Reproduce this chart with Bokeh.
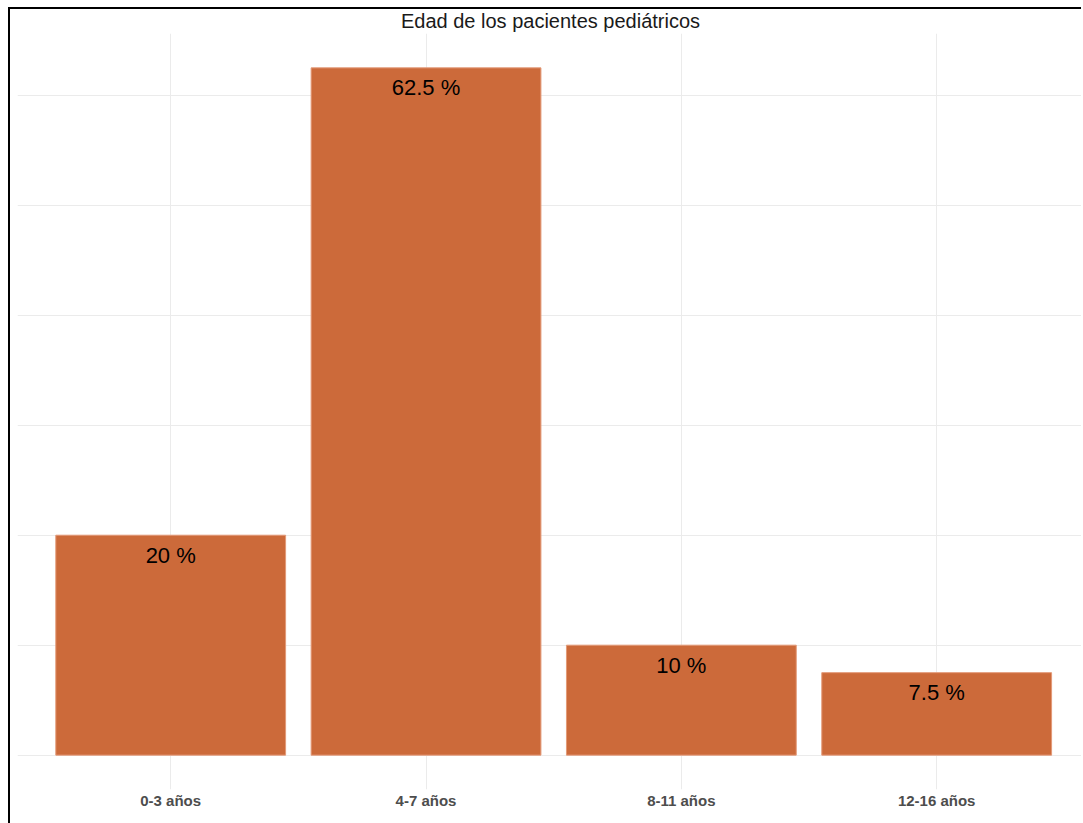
from bokeh.plotting import figure
from bokeh.models import ColumnDataSource, FixedTicker, Range1d
from bokeh.embed import file_html
from bokeh.resources import INLINE

# Age groups of paediatric patients and their share (%)
categories = ["0-3 años", "4-7 años", "8-11 años", "12-16 años"]
percentages = [20, 62.5, 10, 7.5]
grid_values = [0, 10, 20, 30, 40, 50, 60]

positions = list(range(1, len(categories) + 1))
labels = [f"{v:g} %" for v in percentages]

source = ColumnDataSource(data=dict(x=positions, top=percentages, label=labels))

p = figure(
    width=1073,
    height=816,
    output_backend="svg",
    toolbar_location=None,
    x_range=Range1d(0.4, 4.575),
    y_range=Range1d(-3.125, 65.625),
    min_border_left=7,
    min_border_right=0,
    min_border_top=24,
    min_border_bottom=36,
    margin=(7, 0, 0, 8),
    styles={"border-left": "2px solid black", "border-top": "2px solid black"},
)

p.title.text = "Edad de los pacientes pediátricos"
p.title.align = "center"
p.title.vertical_align = "top"
p.title.text_font = "Liberation Sans"
p.title.text_font_size = "20px"
p.title.text_font_style = "normal"
p.title.text_color = "#1a1a1a"
p.title.standoff = 0

p.outline_line_color = None
p.background_fill_color = "white"
p.border_fill_color = "white"

# bars
p.vbar(x="x", top="top", bottom=0, width=0.9, source=source,
       fill_color="#CC6A3A", line_color="#E39A78", line_width=1)

# value labels inside the bars
p.text(x="x", y="top", text="label", source=source,
       text_align="center", text_baseline="middle", y_offset=20,
       text_font_size="22px", text_color="#000000",
       text_font={"value": "Liberation Sans"})

# axes
p.yaxis.visible = False
xa = p.xaxis[0]
xa.ticker = FixedTicker(ticks=positions)
xa.major_label_overrides = {i: c for i, c in zip(positions, categories)}
xa.axis_line_color = None
xa.major_tick_line_color = None
xa.minor_tick_line_color = None
xa.major_label_text_font = "Liberation Sans"
xa.major_label_text_font_style = "bold"
xa.major_label_text_font_size = "15px"
xa.major_label_text_color = "#4D4D4D"
xa.major_label_standoff = -4

# grid
p.xgrid.ticker = FixedTicker(ticks=positions)
p.ygrid.ticker = FixedTicker(ticks=grid_values)
p.xgrid.grid_line_color = "#EBEBEB"
p.ygrid.grid_line_color = "#EBEBEB"
p.xgrid.grid_line_width = 1
p.ygrid.grid_line_width = 1

open("out.html", "w").write(file_html(p, INLINE))
